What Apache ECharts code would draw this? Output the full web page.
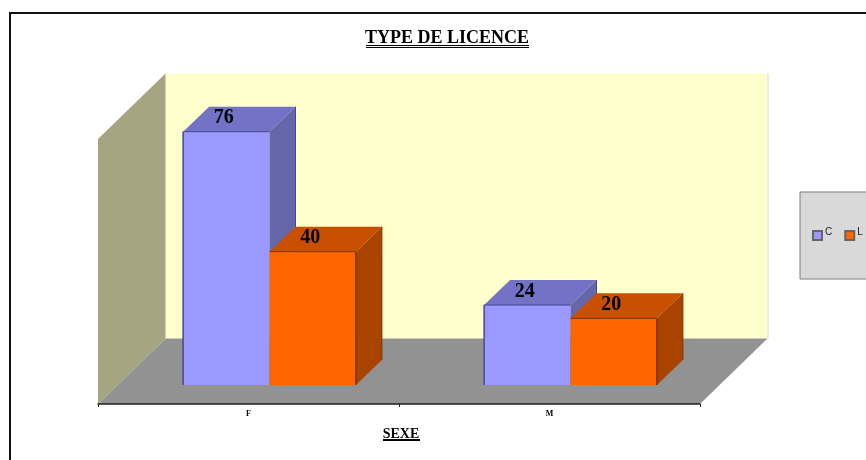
<!DOCTYPE html>
<html><head><meta charset="utf-8">
<style>html,body{margin:0;padding:0;background:#fff}#c{width:866px;height:460px}</style>
<script src="https://cdn.jsdelivr.net/npm/echarts@6/dist/echarts.min.js"></script>
</head><body><div id="c"></div>
<script>
var categories = ['F', 'M'];
var valuesC = [76, 24];
var valuesL = [40, 20];
var chart = echarts.init(document.getElementById('c'), null, {renderer:'canvas'});
var SERIF = '"Liberation Serif","Times New Roman",serif';

function poly(pts, fill, stroke, lw){
  return {type:'polygon', shape:{points:pts},
    style:{fill:fill, stroke:stroke||null, lineWidth:lw||0}};
}
function wallsRender(params, api){
  var c = params.coordSys, dx = 67.5, dy = -65.5;
  var l = c.x, r = c.x + c.width, t = c.y, b = c.y + c.height;
  if (params.dataIndex !== 0) return null;
  return {type:'group', children:[
    poly([[l+dx,t+dy],[r+dx,t+dy],[r+dx,b+dy],[l+dx,b+dy]], '#FFFFCC'),
    {type:'line', shape:{x1:r+dx+0.5,y1:t+dy,x2:r+dx+0.5,y2:b+dy}, style:{stroke:'#E4E4DC',lineWidth:1.5}},
    poly([[l,b],[l+dx,b+dy],[r+dx,b+dy],[r,b]], '#929292'),
    poly([[l,t],[l+dx,t+dy],[l+dx,b+dy],[l,b]], '#A5A582')
  ]};
}
function barRender(slot, front, top, side, edge){
  return function(params, api){
    var i = api.value(0), v = api.value(1);
    var band = api.size([1,0])[0], w = band * 0.287;
    var cx = api.coord([i,0])[0] + 21;
    var x0 = cx - w + slot * w, x1 = x0 + w;
    var yb = api.coord([i,0])[1] - 19, yt = api.coord([i,v])[1] - 19;
    var dx = 26, dy = -25;
    var kids = [
      poly([[x0,yb],[x0,yt],[x1,yt],[x1,yb]], front),
      poly([[x0,yt],[x0+dx,yt+dy],[x1+dx,yt+dy],[x1,yt]], top),
      poly([[x1,yt],[x1+dx,yt+dy],[x1+dx,yb+dy],[x1,yb]], side),
      {type:'line', shape:{x1:x0,y1:yt,x2:x1,y2:yt}, style:{stroke:edge,lineWidth:1}},
      {type:'line', shape:{x1:x1+dx,y1:yt+dy,x2:x1+dx,y2:yb+dy}, style:{stroke:edge,lineWidth:1}},
      {type:'text', x:(x0+x1)/2 - 2.5, y:yt - 13.5, z2:10,
       style:{text:String(v), fill:'#000', font:'bold 20px '+SERIF, align:'center', verticalAlign:'middle'}}
    ];
    kids.push(slot === 0
      ? {type:'line', shape:{x1:x0,y1:yt,x2:x0,y2:yb}, style:{stroke:edge,lineWidth:1.5}}
      : {type:'line', shape:{x1:x1,y1:yt,x2:x1,y2:yb}, style:{stroke:edge,lineWidth:1.5}});
    return {type:'group', children:kids};
  };
}
var rows = function(a){ return a.map(function(v,i){ return [i,v]; }); };

chart.setOption({
  animation:false,
  backgroundColor:'#fff',
  grid:{left:98, top:139, width:602, height:265, containLabel:false},
  xAxis:{type:'category', data:categories, z:5,
    axisLine:{lineStyle:{color:'#222',width:1.5}},
    axisTick:{show:true,length:3,lineStyle:{color:'#222'}},
    axisLabel:{fontFamily:SERIF,fontWeight:'bold',fontSize:8,color:'#000',margin:6},
    name:'SEXE', nameLocation:'middle', nameGap:23,
    nameTextStyle:{fontFamily:SERIF,fontWeight:'bold',fontSize:14,color:'#000',padding:[0,0,0,4]}},
  yAxis:{type:'value', min:0, max:79.5, show:false, splitLine:{show:false}},
  title:{text:'TYPE DE LICENCE', left:447, top:29, textAlign:'center',
    textStyle:{fontFamily:SERIF,fontWeight:'bold',fontSize:18,color:'#000',lineHeight:18}, padding:0},
  legend:{data:['C','L'], left:800, top:192, width:300, orient:'horizontal', icon:'rect',
    itemWidth:9, itemHeight:9, itemGap:12, padding:[35,60,35,12],
    backgroundColor:'#D9D9D9', borderColor:'#7F7F7F', borderWidth:1, borderRadius:0,
    selectedMode:false, formatter:'{a|{name}}',
    textStyle:{fontFamily:'"Liberation Sans",Arial,sans-serif',fontSize:10,color:'#222',
      rich:{a:{fontFamily:'"Liberation Sans",Arial,sans-serif',fontSize:10,color:'#222',lineHeight:10,padding:[0,0,7,-2]}}}},
  graphic:[
    {type:'rect', z:100, shape:{x:10,y:13,width:1000,height:700}, style:{fill:null,stroke:'#111',lineWidth:2}, silent:true},
    {type:'line', z:100, shape:{x1:366,y1:45.5,x2:529,y2:45.5}, style:{stroke:'#000',lineWidth:1}, silent:true},
    {type:'line', z:100, shape:{x1:366,y1:47.5,x2:529,y2:47.5}, style:{stroke:'#000',lineWidth:1}, silent:true},
    {type:'line', z:100, shape:{x1:383,y1:440,x2:420,y2:440}, style:{stroke:'#000',lineWidth:2}, silent:true}
  ],
  series:[
    {type:'custom', name:'walls', z:1, silent:true, renderItem:wallsRender, data:[[0,0]], encode:{x:0,y:1}, clip:false},
    {type:'custom', name:'C', z:2, silent:true, renderItem:barRender(0,'#9999FF','#7272C6','#6666AA','#47478F'),
     data:rows(valuesC), encode:{x:0,y:1}, itemStyle:{color:'#9999FF',borderColor:'#666',borderWidth:1}},
    {type:'custom', name:'L', z:3, silent:true, renderItem:barRender(1,'#FF6600','#C85000','#A84400','#7A3200'),
     data:rows(valuesL), encode:{x:0,y:1}, itemStyle:{color:'#FF6600',borderColor:'#666',borderWidth:1}}
  ]
});
</script></body></html>
